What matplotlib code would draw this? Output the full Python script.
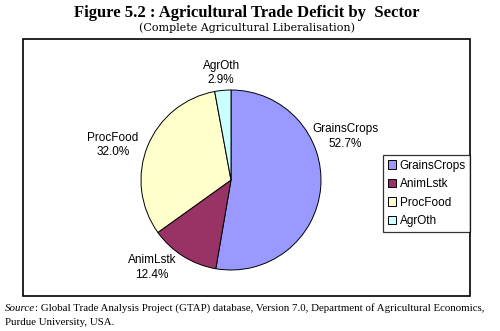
import matplotlib.pyplot as plt
from matplotlib.patches import Rectangle

# data
sectors = ['GrainsCrops', 'AnimLstk', 'ProcFood', 'AgrOth']
shares = [52.7, 12.4, 32.0, 2.9]
colors = ['#9999FF', '#993366', '#FFFFCC', '#CCFFFF']
label_pos = [(1.27, 0.48), (-0.88, -0.97), (-1.31, 0.39), (-0.11, 1.19)]

fig = plt.figure(figsize=(5, 3.31), dpi=100)

# chart frame
fig.patches.append(Rectangle((23 / 500, 1 - 296 / 331), 447 / 500, 257 / 331,
                             transform=fig.transFigure, fill=False,
                             edgecolor='black', linewidth=1.2))

fig.text(0.494, 1 - 13 / 331, 'Figure 5.2 : Agricultural Trade Deficit by  Sector',
         ha='center', va='center', family='Liberation Serif', weight='bold', fontsize=12)
fig.text(0.494, 1 - 28 / 331, '(Complete Agricultural Liberalisation)',
         ha='center', va='center', family='DejaVu Serif', fontsize=8)

ax = fig.add_axes([141 / 500, 1 - 270 / 331, 180 / 500, 180 / 331])
wedges, _ = ax.pie(shares, colors=colors, startangle=90, counterclock=False, radius=1,
                   wedgeprops=dict(edgecolor='black', linewidth=0.7))
ax.set_xlim(-1, 1)
ax.set_ylim(-1, 1)
ax.set_aspect('equal')

for name, val, (x, y) in zip(sectors, shares, label_pos):
    ax.text(x, y, f'{name}\n{val:.1f}%', ha='center', va='center',
            family='Liberation Sans', fontsize=8.5, linespacing=1.3, clip_on=False)

leg = fig.legend(wedges, sectors, loc='upper left',
                 bbox_to_anchor=(383 / 500, 1 - 155 / 331),
                 prop={'family': 'Liberation Sans', 'size': 8.5},
                 frameon=True, fancybox=False, edgecolor='black',
                 handlelength=0.7, handleheight=0.7, handletextpad=0.3,
                 borderpad=0.4, labelspacing=0.55, borderaxespad=0)
leg.get_frame().set_linewidth(0.9)

# source note
src = fig.text(0.01, 1 - 311 / 331, 'Source',
               ha='left', va='baseline', family='Liberation Serif', style='italic', fontsize=7.8)
ax.annotate(': Global Trade Analysis Project (GTAP) database, Version 7.0, '
            'Department of Agricultural Economics,',
            xy=(1, 0), xycoords=src, ha='left', va='bottom',
            family='Liberation Serif', fontsize=7.8, annotation_clip=False)
fig.text(0.01, 1 - 325 / 331, 'Purdue University, USA.',
         ha='left', va='baseline', family='Liberation Serif', fontsize=7.8)

fig.savefig('out.png', dpi=100)
